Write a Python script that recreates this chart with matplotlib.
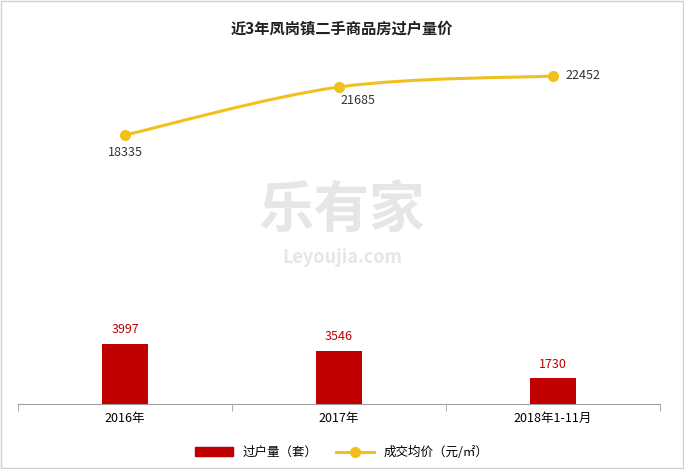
import numpy as np
import matplotlib.pyplot as plt
from matplotlib.lines import Line2D
from matplotlib.patches import Patch, PathPatch
from matplotlib.path import Path

plt.rcParams['font.family'] = ['Noto Sans CJK SC', 'DejaVu Sans']

categories = ["2016年", "2017年", "2018年1-11月"]
volume = [3997, 3546, 1730]
price = [18335, 21685, 22452]

fig = plt.figure(figsize=(6.84, 4.69), dpi=100)
fig.patches.append(plt.Rectangle((0.002, 0.002), 0.996, 0.996, transform=fig.transFigure,
                                 fill=False, edgecolor="#d0d0d0", linewidth=1))
ax = fig.add_axes([18 / 684, 65 / 469, 642 / 684, 359 / 469])
x = np.arange(len(categories))

ax.bar(x, volume, width=0.215, color="#C00000", zorder=3)
for xi, v in zip(x, volume):
    ax.text(xi, v + 500, str(v), ha="center", va="bottom", fontsize=9, color="#C00000")
ax.set_xlim(-0.5, 2.5)
ax.set_ylim(0, 23900)
ax.set_yticks([])
for s in ["top", "right", "left"]:
    ax.spines[s].set_visible(False)
ax.spines["bottom"].set_color("#a0a0a0")
ax.set_xticks(x)
ax.set_xticklabels(categories, fontsize=9)
ax.tick_params(axis="x", which="major", length=0, pad=6)
ax.set_xticks([-0.5, 0.5, 1.5, 2.5], minor=True)
ax.tick_params(axis="x", which="minor", length=5, color="#a0a0a0")

ax2 = ax.twinx()
ax2.set_ylim(-435, 24615)
ax2.axis("off")

# smoothed line through the points (Catmull-Rom -> Bezier)
pts = np.column_stack([x, price]).astype(float)
ext = np.vstack([pts[0], pts, pts[-1]])
verts = [tuple(pts[0])]
codes = [Path.MOVETO]
for i in range(1, len(ext) - 2):
    p0, p1, p2, p3 = ext[i - 1], ext[i], ext[i + 1], ext[i + 2]
    c1 = p1 + (p2 - p0) / 6
    c2 = p2 - (p3 - p1) / 6
    verts += [tuple(c1), tuple(c2), tuple(p2)]
    codes += [Path.CURVE4] * 3
ax2.add_patch(PathPatch(Path(verts, codes), fill=False, edgecolor="#F2C01E",
                        linewidth=2.2, zorder=4))
ax2.plot(x, price, linestyle="none", color="#F2C01E", marker="o", markersize=7, zorder=5)

offsets = [(0, -800), (0.09, -500), (0.06, 0)]
for xi, p, (dx, dy) in zip(x, price, offsets):
    if dy == 0:
        ax2.text(xi + dx, p, str(p), ha="left", va="center", fontsize=9, color="#333333")
    else:
        ax2.text(xi + dx, p + dy, str(p), ha="center", va="top", fontsize=9, color="#333333")

# watermark
fig.text(0.5, 0.55, "乐有家", ha="center", va="center", fontsize=40, color="#e6e6e6",
         fontweight="bold", zorder=0)
fig.text(0.5, 0.45, "Leyoujia.com", ha="center", va="center", fontsize=13, color="#e6e6e6",
         fontweight="bold", zorder=0)

fig.text(0.5, 0.94, "近3年凤岗镇二手商品房过户量价", ha="center", va="center",
         fontsize=11, fontweight="bold", color="#222222")

handles = [Patch(color="#C00000"),
           Line2D([0], [0], color="#F2C01E", linewidth=2.2, marker="o", markersize=7)]
fig.legend(handles, ["过户量（套）", "成交均价（元/㎡）"], loc="center",
           bbox_to_anchor=(0.5, 0.035), ncol=2, frameon=False, fontsize=9,
           handlelength=3, columnspacing=1.5)

fig.savefig("out.png", dpi=100)
